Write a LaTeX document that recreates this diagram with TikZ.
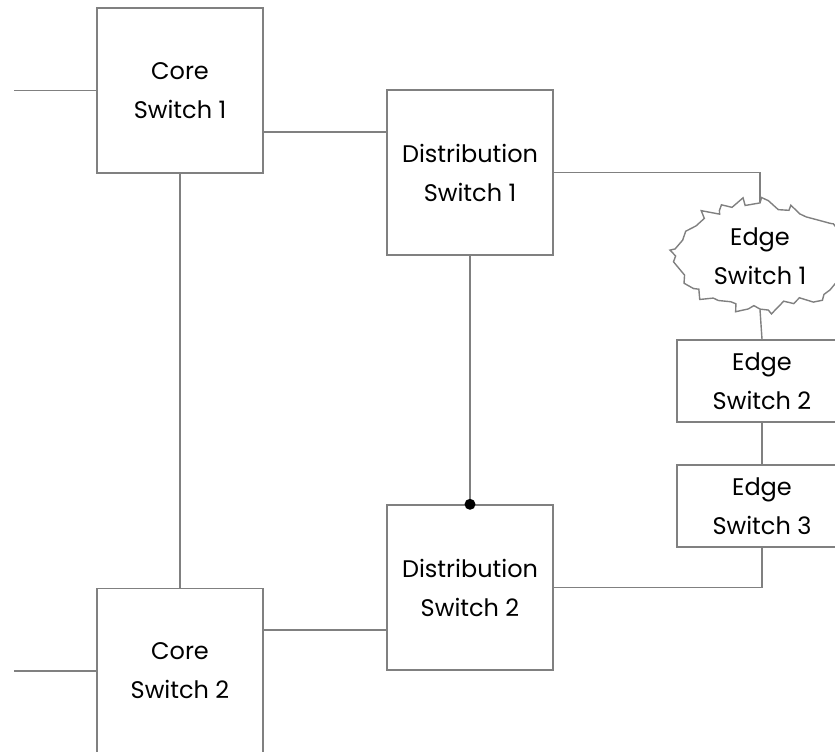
\documentclass[tikz,border=0pt]{standalone}
\usepackage{fontspec}
\setmainfont{Poppins}
\usetikzlibrary{shapes.geometric,decorations.pathmorphing}
\tikzset{
  switchbox/.style={draw=gray,line width=1.4pt,rectangle,align=center,minimum width=166pt,minimum height=165pt,inner sep=0pt},
  edgebox/.style={switchbox,minimum width=170pt,minimum height=82pt},
  edgecloud/.style={draw=gray,line width=1.4pt,ellipse,align=center,minimum width=168pt,minimum height=106pt,inner sep=0pt,
    decorate,decoration={random steps,segment length=8pt,amplitude=7pt}},
  link/.style={draw=gray,line width=1.4pt}
}
\begin{document}
\begin{tikzpicture}[x=1pt,y=-1pt,font=\fontsize{24}{39}\selectfont]
	\pgfmathsetseed{11}
	\useasboundingbox (0,0) rectangle (835,752);
	% switches
	\node[switchbox] (core1) at (180,90.5) {Core\\Switch 1};
	\node[switchbox] (core2) at (180,671) {Core\\Switch 2};
	\node[switchbox] (dist1) at (470,172.5) {Distribution\\Switch 1};
	\node[switchbox] (dist2) at (470,587.5) {Distribution\\Switch 2};
	\node[edgecloud] (edge1) at (760,256) {Edge\\Switch 1};
	\node[edgebox] (edge2) at (762,381) {Edge\\Switch 2};
	\node[edgebox] (edge3) at (762,506) {Edge\\Switch 3};
	% free ends and side points
	\coordinate (up1) at (14,90.5);
	\coordinate (up2) at (14,671);
	\coordinate (c1r) at ([yshift=-41.5pt]core1.east);
	\coordinate (d2l) at ([yshift=-42.5pt]dist2.west);
	% links
	\draw[link] (up1) -- (core1.west);
	\draw[link] (up2) -- (core2.west);
	\draw[link] (c1r) -- (c1r -| dist1.west);
	\draw[link] (core1.south) -- (core2.north);
	\draw[link] (d2l) -- (d2l -| core2.east);
	\draw[link] (dist1.east) -| (edge1.north);
	\draw[link] (dist1.south) -- (dist2.north);
	\draw[link] (dist2.east) -| (edge3.south);
	\draw[link] (edge1.south) -- (edge2.north);
	\draw[link] (edge2.south) -- (edge3.north);
	\fill (dist2.north) circle (5.5pt);
\end{tikzpicture}
\end{document}
